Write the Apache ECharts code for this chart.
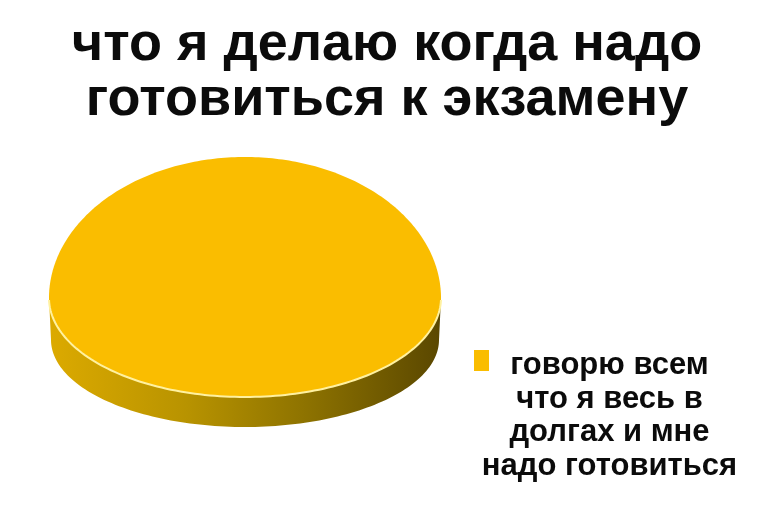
<!DOCTYPE html>
<html><head><meta charset="utf-8">
<script src="https://cdn.jsdelivr.net/npm/echarts@6/dist/echarts.min.js"></script>
<style>html,body{margin:0;padding:0;background:#fff}#c{width:774px;height:527px}</style>
</head><body><div id="c"></div>
<script>
// ---- data ----
const titleLines = ['что я делаю когда надо', 'готовиться к экзамену'];
const categories = ['говорю всем\nчто я весь в\nдолгах и мне\nнадо готовиться'];
const values = [100];
const sliceColors = ['#FABD00'];

// ---- style / layout ----
const FONT = '"Liberation Sans", Arial, sans-serif';
const PIE = { cx: 245, cyTop: 298, rx: 196, ryBack: 141, ryFront: 99, cyBot: 340, rxBot: 194, ryFrontBot: 87 };
const sideStops = [
  { offset: 0, color: '#DCAA00' },
  { offset: 0.35, color: '#B89300' },
  { offset: 0.65, color: '#8E7300' },
  { offset: 1, color: '#5A4700' }
];

const total = values.reduce((a, b) => a + b, 0);
const starts = [];
values.reduce((acc, v, i) => { starts[i] = acc; return acc + v; }, 0);

function topPt(t) {
  const s = Math.sin(t);
  return [PIE.cx + PIE.rx * Math.cos(t), PIE.cyTop + (s > 0 ? PIE.ryFront : PIE.ryBack) * s];
}
function botPt(t) {
  const s = Math.sin(t);
  return [PIE.cx + PIE.rxBot * Math.cos(t), PIE.cyBot + (s > 0 ? PIE.ryFrontBot : PIE.ryBack) * s];
}
function arc(fn, a0, a1, n) {
  const pts = [];
  for (let k = 0; k <= n; k++) pts.push(fn(a0 + (a1 - a0) * k / n));
  return pts;
}

function renderItem(params, api) {
  const i = params.dataIndex;
  const a0 = -Math.PI / 2 + starts[i] / total * Math.PI * 2;
  const a1 = -Math.PI / 2 + (starts[i] + values[i]) / total * Math.PI * 2;
  const full = values[i] === total;
  const children = [];
  const intervals = [];
  for (let base = -2 * Math.PI; base <= 2 * Math.PI; base += 2 * Math.PI) {
    const s = Math.max(a0, base), e = Math.min(a1, base + Math.PI);
    if (e > s) intervals.push([s, e]);
  }
  intervals.forEach(([s, e]) => {
    const top = arc(topPt, s, e, 120);
    const bot = arc(botPt, s, e, 120).reverse();
    children.push({
      type: 'polygon',
      shape: { points: top.concat(bot) },
      style: { fill: { type: 'linear', x: PIE.cx - PIE.rx, y: 0, x2: PIE.cx + PIE.rx, y2: 0, global: true, colorStops: sideStops } }
    });
  });
  let topPts = arc(topPt, a0, a1, 360);
  if (!full) topPts = [[PIE.cx, PIE.cyTop]].concat(topPts);
  children.push({ type: 'polygon', shape: { points: topPts }, style: { fill: sliceColors[i] } });
  intervals.forEach(([s, e]) => {
    children.push({
      type: 'polyline',
      shape: { points: arc(topPt, s + 0.02, e - 0.02, 120) },
      style: { stroke: '#FFF1A0', lineWidth: 2, fill: null }
    });
  });
  return { type: 'group', children };
}

const chart = echarts.init(document.getElementById('c'), null, { renderer: 'canvas' });
chart.setOption({
  backgroundColor: '#ffffff',
  animation: false,
  title: {
    text: titleLines.join('\n'),
    left: 'center',
    top: 13,
    textStyle: { fontFamily: FONT, fontSize: 54, fontWeight: 'bold', color: '#0b0b0b', lineHeight: 55 }
  },
  legend: {
    left: 469,
    top: 345,
    icon: 'rect',
    itemWidth: 15,
    itemHeight: 21,
    data: [categories[0]],
    formatter: name => '{a|' + name + '}',
    textStyle: {
      padding: [111, 0, 0, 0],
      rich: { a: { width: 231, align: 'center', fontFamily: FONT, fontSize: 31, fontWeight: 'bold', lineHeight: 33.5, color: '#0b0b0b' } }
    }
  },
  series: [{
    type: 'custom',
    name: categories[0],
    coordinateSystem: 'none',
    itemStyle: { color: sliceColors[0] },
    renderItem: renderItem,
    data: values.map((v, i) => ({ value: v, name: categories[i] }))
  }]
});
</script></body></html>
